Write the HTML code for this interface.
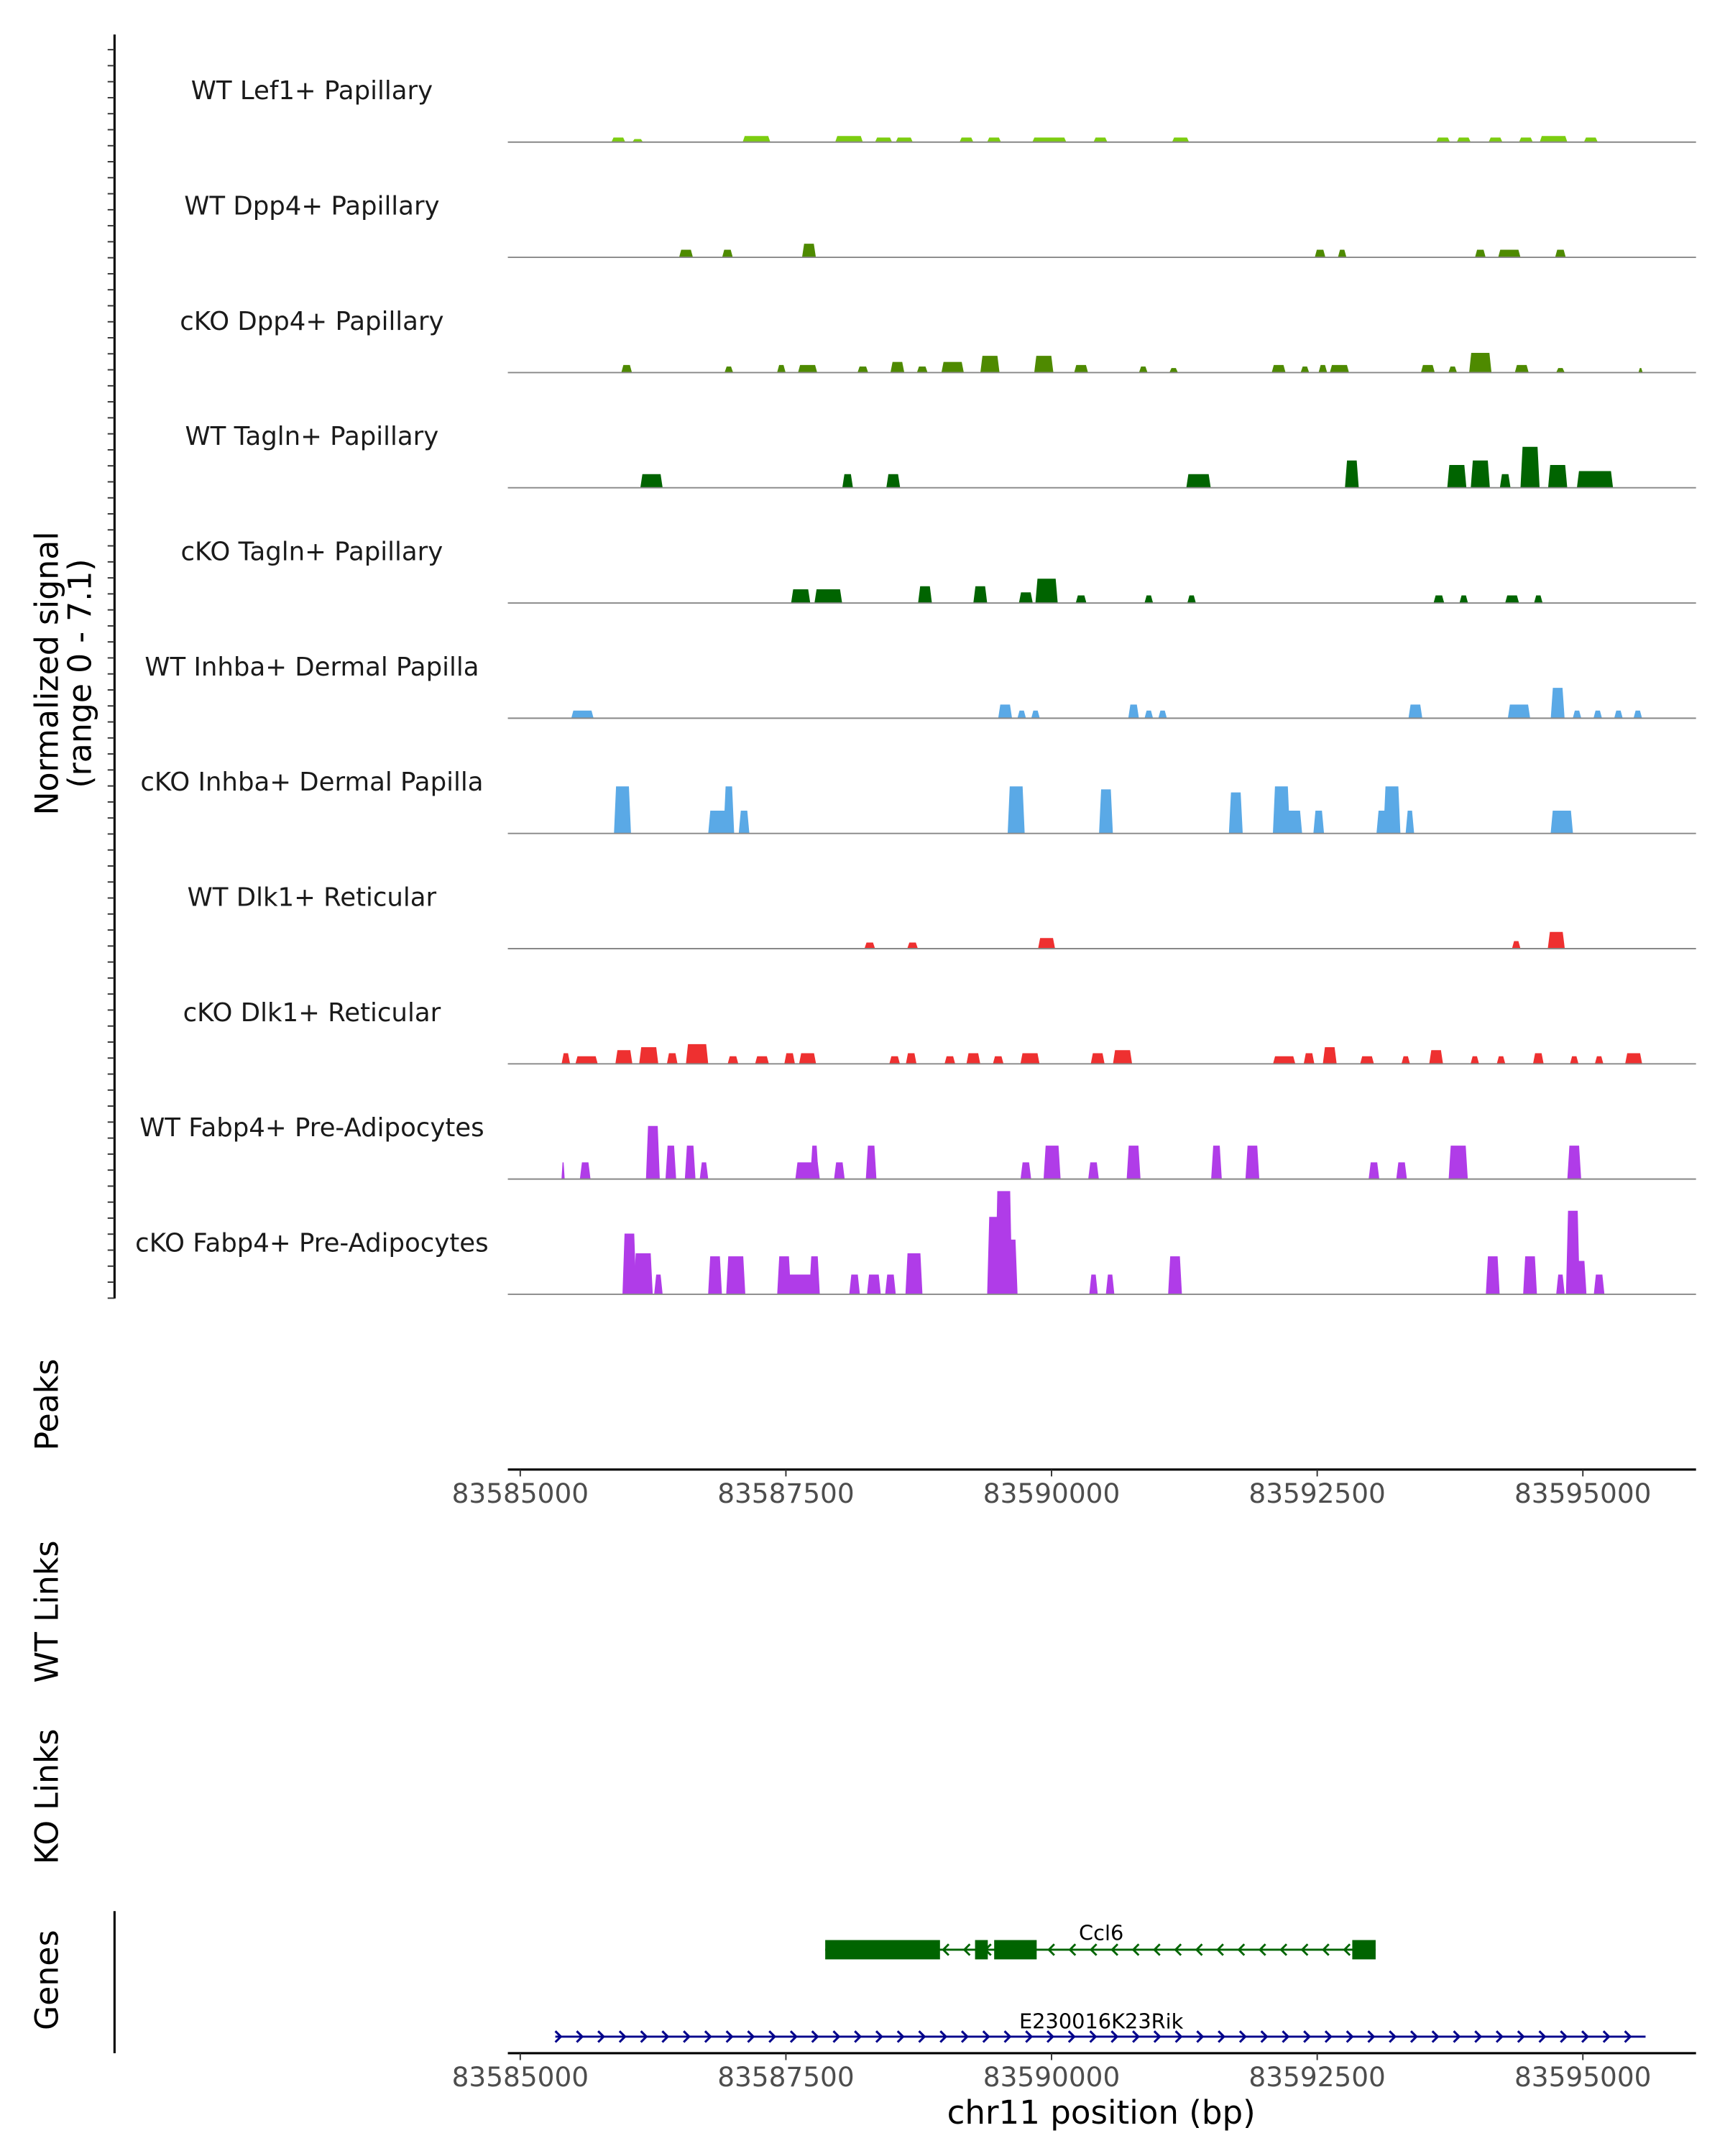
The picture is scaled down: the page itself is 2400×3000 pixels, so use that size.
<!DOCTYPE html>
<html><head><meta charset="utf-8"><style>
html,body{margin:0;padding:0;background:#fff;}
svg{display:block;font-family:"DejaVu Sans","Liberation Sans",sans-serif;}
</style></head><body>
<svg id="chart" width="2400" height="3000" viewBox="0 0 1250 1562.5" xmlns="http://www.w3.org/2000/svg">
<g id="g"></g>
</svg>
<script>
// genomic axis
const xTicks = [83585000, 83587500, 83590000, 83592500, 83595000];
const trackNames = ["WT Lef1+ Papillary","WT Dpp4+ Papillary","cKO Dpp4+ Papillary","WT Tagln+ Papillary","cKO Tagln+ Papillary","WT Inhba+ Dermal Papilla","cKO Inhba+ Dermal Papilla","WT Dlk1+ Reticular","cKO Dlk1+ Reticular","WT Fabp4+ Pre-Adipocytes","cKO Fabp4+ Pre-Adipocytes"];
const trackColors = ["#7ccd10","#4e8a00","#4e8a00","#006400","#006400","#5aa9e6","#5aa9e6","#ee3030","#ee3030","#b03ce8","#b03ce8"];
// peaks per track: [center bp, width bp, signal]
const lef1WT = [[83585923,130,0.3],[83586105,100,0.2],[83587223,260,0.4],[83588094,260,0.4],[83588419,160,0.3],[83588614,160,0.3],[83589199,130,0.3],[83589459,130,0.3],[83589979,320,0.3],[83590460,130,0.3],[83591214,160,0.3],[83593684,130,0.3],[83593879,130,0.3],[83594178,130,0.3],[83594464,130,0.3],[83594724,260,0.4],[83595075,130,0.3]];
const dpp4WT = [[83586560,130,0.5],[83586950,100,0.5],[83587717,130,0.9],[83592527,100,0.5],[83592735,80,0.5],[83594035,100,0.5],[83594308,210,0.5],[83594789,100,0.5]];
const dpp4KO = [[83586001,100,0.5],[83586963,80,0.4],[83587457,80,0.5],[83587704,180,0.5],[83588224,100,0.4],[83588549,130,0.7],[83588783,100,0.4],[83589069,210,0.7],[83589420,180,1.1],[83589927,180,1.1],[83590278,130,0.5],[83590863,80,0.4],[83591149,80,0.3],[83592137,130,0.5],[83592384,80,0.4],[83592553,80,0.5],[83592709,180,0.5],[83593541,130,0.5],[83593775,80,0.4],[83594035,210,1.3],[83594425,130,0.5],[83594789,80,0.3],[83595543,40,0.3]];
const taglnWT = [[83586235,210,0.9],[83588081,100,0.9],[83588510,130,0.9],[83591383,230,0.9],[83592826,130,1.8],[83593814,180,1.5],[83594035,180,1.8],[83594269,100,0.9],[83594503,180,2.7],[83594763,180,1.5],[83595114,340,1.1]];
const taglnKO = [[83587639,180,0.9],[83587899,260,0.9],[83588809,130,1.1],[83589329,130,1.1],[83589758,130,0.7],[83589953,210,1.6],[83590278,100,0.5],[83590915,80,0.5],[83591318,80,0.5],[83593645,100,0.5],[83593879,80,0.5],[83594334,130,0.5],[83594581,80,0.5]];
const inhbaWT = [[83585585,210,0.5],[83589563,130,0.9],[83589719,80,0.5],[83589849,80,0.5],[83590772,100,0.9],[83590915,80,0.5],[83591045,80,0.5],[83593424,130,0.9],[83594399,210,0.9],[83594763,130,2.0],[83594945,80,0.5],[83595140,80,0.5],[83595335,80,0.5],[83595517,80,0.5]];
const inhbaKO = [[83585962,160,3.1],[83586859,180,1.5],[83586963,100,3.1],[83587106,100,1.5],[83589667,160,3.1],[83590512,130,2.9],[83591734,130,2.7],[83592163,160,3.1],[83592228,260,1.5],[83592514,100,1.5],[83593203,160,3.1],[83593138,160,1.5],[83593372,80,1.5],[83594802,210,1.5]];
const dlk1WT = [[83588289,100,0.4],[83588692,100,0.4],[83589953,160,0.7],[83594373,80,0.5],[83594750,160,1.1]];
const dlk1KO = [[83585429,80,0.7],[83585624,210,0.5],[83585975,160,0.9],[83586209,180,1.1],[83586430,100,0.7],[83586664,210,1.3],[83587002,100,0.5],[83587275,130,0.5],[83587535,100,0.7],[83587704,160,0.7],[83588523,100,0.5],[83588679,100,0.7],[83589043,100,0.5],[83589264,130,0.7],[83589498,100,0.5],[83589797,180,0.7],[83590434,130,0.7],[83590668,180,0.9],[83592189,210,0.5],[83592423,100,0.7],[83592618,130,1.1],[83592969,130,0.5],[83593333,80,0.5],[83593619,130,0.9],[83593983,80,0.5],[83594230,80,0.5],[83594581,100,0.7],[83594919,80,0.5],[83595153,80,0.5],[83595478,160,0.7]];
const fabp4WT = [[83585403,30,1.1],[83585611,100,1.1],[83586248,130,3.5],[83586417,100,2.2],[83586599,100,2.2],[83586729,80,1.1],[83587704,230,1.1],[83587769,80,2.2],[83588003,100,1.1],[83588302,100,2.2],[83589758,100,1.1],[83590005,160,2.2],[83590395,100,1.1],[83590772,130,2.2],[83591552,100,2.2],[83591890,130,2.2],[83593034,100,1.1],[83593294,100,1.1],[83593827,180,2.2],[83594919,130,2.2]];
const fabp4KO = [[83586027,130,4.0],[83586157,180,2.7],[83586300,80,1.3],[83586833,130,2.5],[83587028,180,2.5],[83587483,130,2.5],[83587639,290,1.3],[83587769,100,2.5],[83588146,100,1.3],[83588328,130,1.3],[83588484,100,1.3],[83588705,160,2.7],[83589459,130,5.1],[83589550,160,6.8],[83589615,130,3.6],[83590395,80,1.3],[83590551,80,1.3],[83591162,130,2.5],[83594152,130,2.5],[83594503,130,2.5],[83594789,80,1.3],[83594906,130,5.5],[83594984,100,2.2],[83595153,100,1.3]];
const tracks = [lef1WT,dpp4WT,dpp4KO,taglnWT,taglnKO,inhbaWT,inhbaKO,dlk1WT,dlk1KO,fabp4WT,fabp4KO];
// genes: exons [start,end]
const ccl6Exons = [[83587870,83588950],[83589280,83589400],[83589460,83589860],[83592830,83593050]];
const ccl6Span = [83587870, 83593050];
const e23Span = [83585330, 83595590];

const NS="http://www.w3.org/2000/svg";
const g=document.getElementById('g');
const X0=368, X1=1229;
const xs = bp => 377 + (bp-83585000)*0.077;
const ys = v => v*11;
function el(tag,attrs,parent){const e=document.createElementNS(NS,tag);for(const k in attrs)e.setAttribute(k,attrs[k]);(parent||g).appendChild(e);return e;}
function txt(s,attrs,parent){const e=el('text',attrs,parent);e.textContent=s;return e;}

// left axis
let ax=el('line',{x1:83,y1:25,x2:83,y2:941,stroke:'#000','stroke-width':1.6});

for(let y=36;y<=941;y+=11.6){let t=el('line',{x1:78,y1:y,x2:83,y2:y,stroke:'#333','stroke-width':1});}
let yt=txt('Normalized signal',{x:0,y:0,'font-size':23,'text-anchor':'middle',transform:'translate(42,488) rotate(-90)'});

let yt2=txt('(range 0 - 7.1)',{x:0,y:0,'font-size':23,'text-anchor':'middle',transform:'translate(66,488) rotate(-90)'});


tracks.forEach((peaks,i)=>{
  const base=103+i*83.5;
  const tg=el('g',{});
  
  
  let lab=txt(trackNames[i],{x:226,y:base-31,'font-size':18.5,'text-anchor':'middle',fill:'#1a1a1a'},tg);
  
  peaks.forEach(p=>{
    const a=xs(p[0]-p[1]/2), b=xs(p[0]+p[1]/2), h=ys(p[2]);
    const s=Math.min(1.5,(b-a)/3);
    let pk=el('polygon',{points:`${a},${base} ${a+s},${base-h} ${b-s},${base-h} ${b},${base}`,fill:trackColors[i]},tg);
    
  });
  let bl=el('line',{x1:X0,y1:base,x2:X1,y2:base,stroke:'#888','stroke-width':1},tg);
  
});

function xAxis(y,name){
  const ag=el('g',{});
  el('line',{x1:X0,y1:y,x2:X1,y2:y,stroke:'#000','stroke-width':1.6},ag);
  xTicks.forEach(t=>{
    el('line',{x1:xs(t),y1:y,x2:xs(t),y2:y+5,stroke:'#333','stroke-width':1},ag);
    let tl=txt(String(t),{x:xs(t),y:y+24,'font-size':19.5,'text-anchor':'middle',fill:'#4d4d4d'},ag);
    
  });
}
xAxis(1065,'peaks-x-axis');
xAxis(1488,'genes-x-axis');

function sideLabel(s,y,name){let t=txt(s,{x:0,y:0,'font-size':23,'text-anchor':'middle',transform:`translate(42,${y}) rotate(-90)`});}
sideLabel('Peaks',1018,'peaks-label');
sideLabel('WT Links',1168,'wt-links-label');
sideLabel('KO Links',1302,'ko-links-label');
sideLabel('Genes',1435,'genes-label');
let gl=el('line',{x1:83,y1:1385,x2:83,y2:1488,stroke:'#000','stroke-width':1.6});


// Ccl6 gene
const cg=el('g',{});
const cy=1413;
el('line',{x1:xs(ccl6Span[0]),y1:cy,x2:xs(ccl6Span[1]),y2:cy,stroke:'#006400','stroke-width':1.5},cg);
for(let x=xs(ccl6Span[0])+10;x<xs(ccl6Span[1])-5;x+=15.3){el('polyline',{points:`${x+3},${cy-4} ${x-1},${cy} ${x+3},${cy+4}`,fill:'none',stroke:'#006400','stroke-width':1.5},cg);}
ccl6Exons.forEach(e=>{let r=el('rect',{x:xs(e[0]),y:cy-7,width:xs(e[1])-xs(e[0]),height:14,fill:'#006400'},cg);});
txt('Ccl6',{x:798,y:1406,'font-size':15,'text-anchor':'middle'},cg);

// E230016K23Rik gene
const eg=el('g',{});
const ey=1476;
el('line',{x1:xs(e23Span[0]),y1:ey,x2:xs(e23Span[1]),y2:ey,stroke:'#00008b','stroke-width':1.5},eg);
for(let x=xs(e23Span[0])+3;x<=xs(e23Span[1]);x+=15.5){el('polyline',{points:`${x-3},${ey-4} ${x+1},${ey} ${x-3},${ey+4}`,fill:'none',stroke:'#00008b','stroke-width':1.6},eg);}
txt('E230016K23Rik',{x:798,y:1470,'font-size':15,'text-anchor':'middle'},eg);

let xt=txt('chr11 position (bp)',{x:798,y:1539,'font-size':23.5,'text-anchor':'middle'});

</script>
</body></html>
